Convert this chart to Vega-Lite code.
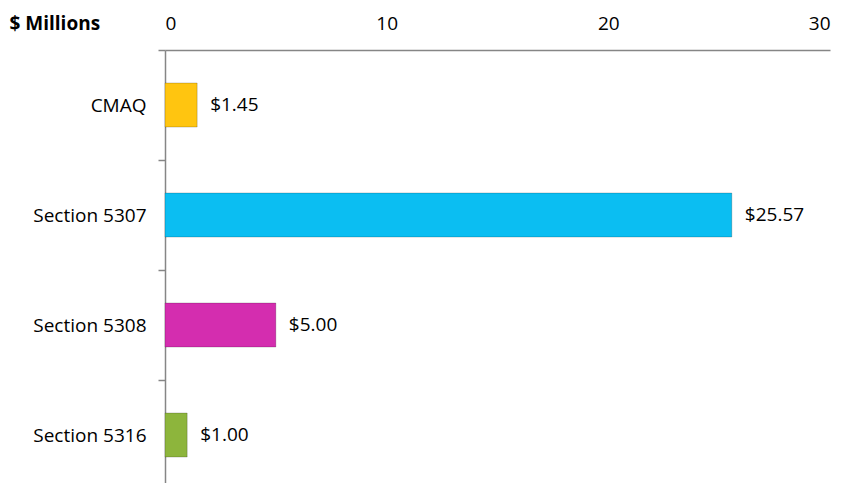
{
  "$schema": "https://vega.github.io/schema/vega-lite/v6.json",
  "autosize": {"type": "none"},
  "padding": {"left": 165, "top": 50, "right": 13, "bottom": 0},
  "width": 665,
  "height": 440,
  "background": "white",
  "config": {"view": {"stroke": null}, "font": "Open Sans"},
  "data": {
    "values": [
      {"program": "CMAQ", "value": 1.45, "color": "#FFC510"},
      {"program": "Section 5307", "value": 25.57, "color": "#0BBEF2"},
      {"program": "Section 5308", "value": 5.0, "color": "#D42DAF"},
      {"program": "Section 5316", "value": 1.0, "color": "#8DB53C"}
    ]
  },
  "encoding": {
    "y": {
      "field": "program",
      "type": "nominal",
      "sort": null,
      "scale": {"paddingInner": 0, "paddingOuter": 0},
      "axis": {
        "title": null,
        "domainColor": "#868686",
        "domainWidth": 1.5,
        "tickColor": "#868686",
        "tickWidth": 1.5,
        "tickSize": 7,
        "tickBand": "extent",
        "labelPadding": 12,
        "labelFontSize": 19,
        "labelColor": "#000000",
        "labelFont": "Open Sans"
      }
    },
    "x": {
      "field": "value",
      "type": "quantitative",
      "scale": {"domain": [0, 30], "nice": false},
      "axis": {
        "orient": "top",
        "values": [0, 10, 20, 30],
        "ticks": false,
        "grid": false,
        "domainColor": "#868686",
        "domainWidth": 1.5,
        "labelPadding": 17,
        "labelFontSize": 19,
        "labelColor": "#000000",
        "labelFont": "Open Sans",
        "title": "$ Millions",
        "titleFont": "Open Sans",
        "titleFontSize": 19,
        "titleFontWeight": "bold",
        "titleColor": "#000000",
        "titleAlign": "left",
        "titleBaseline": "middle",
        "titleAnchor": "start",
        "titleX": -156,
        "titleY": -27
      }
    }
  },
  "layer": [
    {
      "mark": {"type": "bar", "height": {"band": 0.4}, "stroke": "#00000033", "strokeWidth": 1},
      "encoding": {
        "color": {"field": "color", "type": "nominal", "scale": null}
      }
    },
    {
      "mark": {"type": "text", "align": "left", "baseline": "middle", "dx": 13, "fontSize": 19, "font": "Open Sans", "color": "#000000"},
      "encoding": {
        "text": {"field": "value", "type": "quantitative", "format": "$.2f"}
      }
    }
  ]
}
